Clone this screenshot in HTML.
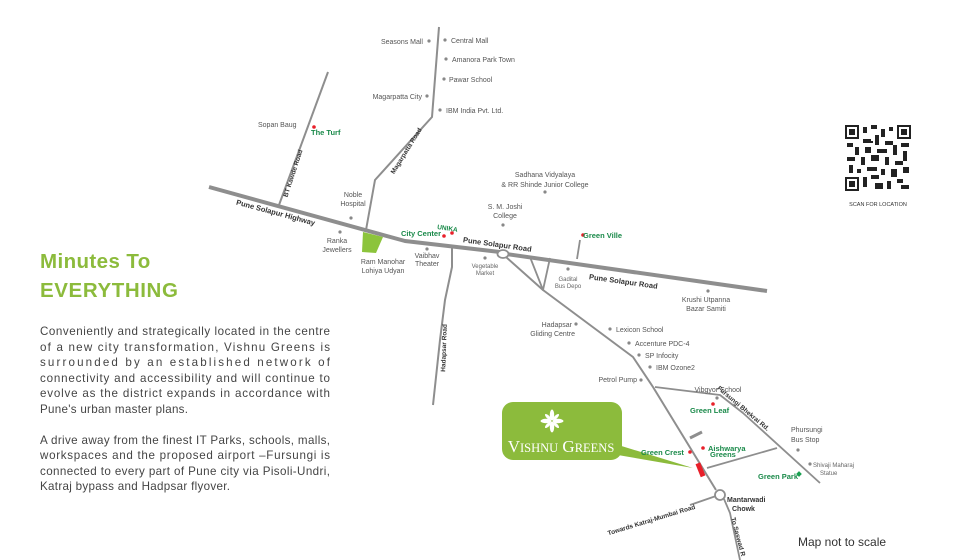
<!DOCTYPE html>
<html><head><meta charset="utf-8"><style>
html,body{margin:0;padding:0;background:#fff;}
svg{display:block;font-family:"Liberation Sans",Arial,sans-serif;}
.l{font-size:7px;fill:#555;}
.s{font-size:6px;fill:#666;}
.g{font-size:7.5px;fill:#1a8a4a;font-weight:bold;}
.b{font-size:7.5px;fill:#333;font-weight:bold;}
.p{font-size:11.6px;fill:#444;}
.r{stroke:#8e8e8e;fill:none;stroke-linejoin:round;}
</style></head><body>
<svg width="969" height="560" viewBox="0 0 969 560">
<rect width="969" height="560" fill="#fff"/>
<text x="40" y="268" font-size="20.5" font-weight="bold" fill="#8cbb3c" letter-spacing="0.4">Minutes To</text>
<text x="40" y="297" font-size="20.5" font-weight="bold" fill="#8cbb3c" letter-spacing="0.6">EVERYTHING</text>
<g class="p">
<text x="40" y="335" textLength="290" lengthAdjust="spacing">Conveniently and strategically located in the centre</text>
<text x="40" y="351" textLength="290" lengthAdjust="spacing">of a new city transformation, Vishnu Greens is</text>
<text x="40" y="366" textLength="290" lengthAdjust="spacing">surrounded by an established network of</text>
<text x="40" y="382" textLength="290" lengthAdjust="spacing">connectivity and accessibility and will continue to</text>
<text x="40" y="397" textLength="290" lengthAdjust="spacing">evolve as the district expands in accordance with</text>
<text x="40" y="413" textLength="148" lengthAdjust="spacing">Pune's urban master plans.</text>
<text x="40" y="444" textLength="290" lengthAdjust="spacing">A drive away from the finest IT Parks, schools, malls,</text>
<text x="40" y="459" textLength="290" lengthAdjust="spacing">workspaces and the proposed airport –Fursungi is</text>
<text x="40" y="475" textLength="290" lengthAdjust="spacing">connected to every part of Pune city via Pisoli-Undri,</text>
<text x="40" y="490" textLength="190" lengthAdjust="spacing">Katraj bypass and Hadpsar flyover.</text>
</g>
<path class="r" stroke-width="4" d="M209 187 L405 241 L500 252"/>
<path class="r" stroke-width="4" d="M506 254 L767 291"/>
<path class="r" stroke-width="2" d="M328 72 L279 205"/>
<path class="r" stroke-width="2" d="M439 27 L432 117 L375 180 L366 230"/>
<path class="r" stroke-width="2" d="M452 245 L452 267 L445 300 L440 340 L433 405"/>
<ellipse cx="503" cy="254" rx="5.5" ry="4" fill="#fff" stroke="#8e8e8e" stroke-width="1.8"/>
<path class="r" stroke-width="2" d="M506 257 L543 290 L633 357 L653 387 L716 490"/>
<path class="r" stroke-width="1.8" d="M530 257 L543 290 L550 258"/>
<path class="r" stroke-width="1.8" d="M577 259 L580 240"/>
<path class="r" stroke-width="1.8" d="M655 387 L720 395 L743 413 L820 483"/>
<path class="r" stroke-width="1.8" d="M707 468 L777 448"/>
<path class="r" stroke-width="3" d="M690 438 L702 432"/>
<path class="r" stroke-width="1.8" d="M690 505 L716 496"/>
<path class="r" stroke-width="1.8" d="M724 499 L730 513 L740 560"/>
<circle cx="720" cy="495" r="5" fill="#fff" stroke="#8e8e8e" stroke-width="1.8"/>
<polygon points="363,232 383,237 376,253 362,252" fill="#8cc43c"/>
<rect x="698" y="463" width="5" height="14" fill="#e8202a" transform="rotate(-22 700 470)"/>
<polygon points="602,440 612,454 693,468" fill="#8cbb3c"/>
<rect x="502" y="402" width="120" height="58" rx="11" fill="#8cbb3c"/>
<g transform="translate(552,421)" fill="#fff">
<ellipse cx="0" cy="-6" rx="2.2" ry="5.5"/><ellipse cx="0" cy="6" rx="2.2" ry="5.5"/>
<ellipse cx="-6" cy="0" rx="5.5" ry="2.2"/><ellipse cx="6" cy="0" rx="5.5" ry="2.2"/>
<ellipse cx="-4" cy="-4" rx="1.6" ry="4" transform="rotate(-45 -4 -4)"/><ellipse cx="4" cy="4" rx="1.6" ry="4" transform="rotate(-45 4 4)"/>
<ellipse cx="4" cy="-4" rx="1.6" ry="4" transform="rotate(45 4 -4)"/><ellipse cx="-4" cy="4" rx="1.6" ry="4" transform="rotate(45 -4 4)"/>
</g>
<text x="561" y="452" text-anchor="middle" fill="#fff" font-family="Liberation Serif,serif" font-size="17">V<tspan font-size="12.5">ISHNU</tspan> G<tspan font-size="12.5">REENS</tspan></text>
<g fill="#888">
<circle cx="429" cy="41" r="1.6"/><circle cx="445" cy="40" r="1.6"/><circle cx="446" cy="59" r="1.6"/><circle cx="444" cy="79" r="1.6"/>
<circle cx="427" cy="96" r="1.6"/><circle cx="440" cy="110" r="1.6"/><circle cx="351" cy="218" r="1.6"/><circle cx="340" cy="232" r="1.6"/>
<circle cx="427" cy="249" r="1.6"/><circle cx="485" cy="258" r="1.6"/><circle cx="503" cy="225" r="1.6"/><circle cx="545" cy="192" r="1.6"/>
<circle cx="568" cy="269" r="1.6"/><circle cx="708" cy="291" r="1.6"/><circle cx="576" cy="324" r="1.6"/><circle cx="610" cy="329" r="1.6"/>
<circle cx="629" cy="343" r="1.6"/><circle cx="639" cy="355" r="1.6"/><circle cx="650" cy="367" r="1.6"/><circle cx="641" cy="380" r="1.6"/>
<circle cx="717" cy="398" r="1.6"/><circle cx="798" cy="450" r="1.6"/><circle cx="810" cy="464" r="1.6"/>
</g>
<g fill="#e8202a">
<circle cx="314" cy="127" r="1.8"/><circle cx="444" cy="236" r="1.8"/><circle cx="452" cy="233" r="1.8"/><circle cx="583" cy="235" r="1.8"/>
<circle cx="713" cy="404" r="1.8"/><circle cx="690" cy="452" r="1.8"/><circle cx="703" cy="448" r="1.8"/>
</g>
<rect x="797" y="472" width="4" height="4" fill="#1aa050" transform="rotate(45 799 474)"/>
<g class="l">
<text x="423" y="44" text-anchor="end">Seasons Mall</text>
<text x="451" y="43">Central Mall</text>
<text x="452" y="62">Amanora Park Town</text>
<text x="449" y="82">Pawar School</text>
<text x="422" y="99" text-anchor="end">Magarpatta City</text>
<text x="446" y="113">IBM India Pvt. Ltd.</text>
<text x="258" y="127">Sopan Baug</text>
<text x="353" y="197" text-anchor="middle">Noble</text>
<text x="353" y="206" text-anchor="middle">Hospital</text>
<text x="337" y="243" text-anchor="middle">Ranka</text>
<text x="337" y="252" text-anchor="middle">Jewellers</text>
<text x="383" y="264" text-anchor="middle">Ram Manohar</text>
<text x="383" y="273" text-anchor="middle">Lohiya Udyan</text>
<text x="427" y="258" text-anchor="middle">Vaibhav</text>
<text x="427" y="266" text-anchor="middle">Theater</text>
<text x="505" y="209" text-anchor="middle">S. M. Joshi</text>
<text x="505" y="218" text-anchor="middle">College</text>
<text x="545" y="177" text-anchor="middle">Sadhana Vidyalaya</text>
<text x="545" y="187" text-anchor="middle">&amp; RR Shinde Junior College</text>
<text x="706" y="302" text-anchor="middle">Krushi Utpanna</text>
<text x="706" y="311" text-anchor="middle">Bazar Samiti</text>
<text x="572" y="327" text-anchor="end">Hadapsar</text>
<text x="575" y="336" text-anchor="end">Gliding Centre</text>
<text x="616" y="332">Lexicon School</text>
<text x="635" y="346">Accenture PDC-4</text>
<text x="645" y="358">SP Infocity</text>
<text x="656" y="370">IBM Ozone2</text>
<text x="637" y="382" text-anchor="end">Petrol Pump</text>
<text x="718" y="392" text-anchor="middle">Vibgyor School</text>
<text x="791" y="432">Phursungi</text>
<text x="791" y="442">Bus Stop</text>
</g>
<g class="s">
<text x="485" y="268" text-anchor="middle">Vegetable</text>
<text x="485" y="275" text-anchor="middle">Market</text>
<text x="568" y="281" text-anchor="middle">Gadital</text>
<text x="568" y="288" text-anchor="middle">Bus Depo</text>
<text x="813" y="467">Shivaji Maharaj</text>
<text x="820" y="475">Statue</text>
</g>
<g class="g">
<text x="311" y="135">The Turf</text>
<text x="441" y="236" text-anchor="end">City Center</text>
<text x="437" y="229" font-size="6.5" transform="rotate(8 437 229)">UNIKA</text>
<text x="583" y="238">Green Ville</text>
<text x="690" y="413">Green Leaf</text>
<text x="641" y="455">Green Crest</text>
<text x="708" y="451">Aishwarya</text>
<text x="710" y="457">Greens</text>
<text x="758" y="479">Green Park</text>
</g>
<g class="b">
<text transform="translate(275,215) rotate(15)" text-anchor="middle">Pune Solapur Highway</text>
<text transform="translate(497,247) rotate(8)" text-anchor="middle">Pune Solapur Road</text>
<text transform="translate(623,284) rotate(8)" text-anchor="middle">Pune Solapur Road</text>
<text transform="translate(295,174) rotate(-72)" text-anchor="middle" font-size="6.5">BT Kawde Road</text>
<text transform="translate(408,152) rotate(-58)" text-anchor="middle" font-size="6.5">Magarpatta Road</text>
<text transform="translate(446,348) rotate(-88)" text-anchor="middle" font-size="6.5">Hadapsar Road</text>
<text transform="translate(742,410) rotate(40)" text-anchor="middle" font-size="6.5">Fursungi Bhekrai Rd.</text>
<text x="727" y="502" font-size="7">Mantarwadi</text>
<text x="732" y="511" font-size="7">Chowk</text>
<text transform="translate(652,522) rotate(-17)" text-anchor="middle" font-size="6.5">Towards Katraj-Mumbai Road</text>
<text transform="translate(731,518) rotate(75)" font-size="6.5">To Saswad R</text>
</g>
<text x="798" y="546" font-size="12" fill="#333">Map not to scale</text>
<g transform="translate(845,125)">
<rect width="66" height="66" fill="#fff"/>
<g fill="#222">
<rect x="0" y="0" width="14" height="14"/><rect x="52" y="0" width="14" height="14"/><rect x="0" y="52" width="14" height="14"/>
</g>
<g fill="#fff"><rect x="2" y="2" width="10" height="10"/><rect x="54" y="2" width="10" height="10"/><rect x="2" y="54" width="10" height="10"/></g>
<g fill="#222"><rect x="4" y="4" width="6" height="6"/><rect x="56" y="4" width="6" height="6"/><rect x="4" y="56" width="6" height="6"/>
<rect x="18" y="2" width="4" height="6"/><rect x="26" y="0" width="6" height="4"/><rect x="36" y="4" width="4" height="8"/><rect x="44" y="2" width="4" height="4"/>
<rect x="18" y="14" width="8" height="4"/><rect x="30" y="10" width="4" height="10"/><rect x="40" y="16" width="8" height="4"/><rect x="2" y="18" width="6" height="4"/>
<rect x="10" y="22" width="4" height="8"/><rect x="20" y="22" width="6" height="6"/><rect x="32" y="24" width="10" height="4"/><rect x="48" y="20" width="4" height="10"/>
<rect x="56" y="18" width="8" height="4"/><rect x="58" y="26" width="4" height="10"/><rect x="2" y="32" width="8" height="4"/><rect x="16" y="32" width="4" height="8"/>
<rect x="26" y="30" width="8" height="6"/><rect x="40" y="32" width="4" height="8"/><rect x="50" y="36" width="8" height="4"/><rect x="4" y="40" width="4" height="8"/>
<rect x="22" y="42" width="10" height="4"/><rect x="36" y="44" width="4" height="6"/><rect x="46" y="44" width="6" height="8"/><rect x="58" y="42" width="6" height="6"/>
<rect x="18" y="52" width="4" height="10"/><rect x="26" y="50" width="8" height="4"/><rect x="30" y="58" width="8" height="6"/><rect x="42" y="56" width="4" height="8"/>
<rect x="52" y="54" width="6" height="4"/><rect x="56" y="60" width="8" height="4"/><rect x="12" y="44" width="4" height="4"/><rect x="26" y="16" width="2" height="2"/>
</g>
</g>
<text x="878" y="206" text-anchor="middle" font-size="5.5" fill="#333">SCAN FOR LOCATION</text>
</svg>
</body></html>
